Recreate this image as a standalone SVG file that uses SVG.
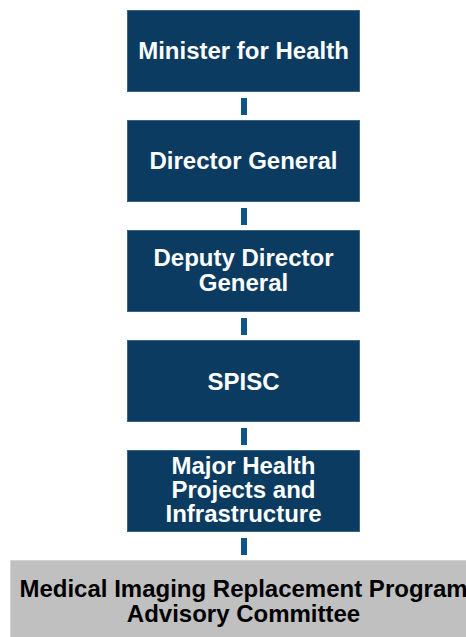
<svg xmlns="http://www.w3.org/2000/svg" width="466" height="637" viewBox="0 0 466 637">
<style>
.box{fill:#0b3b60;stroke:#3a6488;stroke-width:1}
.gbox{fill:#c0c0c0;stroke:#d4d4d4;stroke-width:1}
.t{font-family:"Liberation Sans",Arial,sans-serif;font-weight:bold;font-size:24px;text-anchor:middle;fill:#ffffff}
.tg{font-family:"Liberation Sans",Arial,sans-serif;font-weight:bold;font-size:24px;text-anchor:middle;fill:#000000}
.c{fill:#0e5586}
</style>
<rect width="466" height="637" fill="#ffffff"/>
<g id="connectors">
<rect class="c" x="241" y="98" width="6" height="17"/>
<rect class="c" x="241" y="208" width="6" height="17"/>
<rect class="c" x="241" y="318" width="6" height="17"/>
<rect class="c" x="241" y="428" width="6" height="17"/>
<rect class="c" x="241" y="538" width="6" height="17"/>
</g>
<g id="minister">
<rect class="box" x="127.5" y="10.5" width="232" height="81"/>
<text class="t" x="243.5" y="59">Minister for Health</text>
</g>
<g id="director-general">
<rect class="box" x="127.5" y="120.5" width="232" height="81"/>
<text class="t" x="243.5" y="169">Director General</text>
</g>
<g id="deputy-director-general">
<rect class="box" x="127.5" y="230.5" width="232" height="81"/>
<text class="t" x="243.5" y="266">Deputy Director</text>
<text class="t" x="243.5" y="291">General</text>
</g>
<g id="spisc">
<rect class="box" x="127.5" y="340.5" width="232" height="81"/>
<text class="t" x="243.5" y="389.5">SPISC</text>
</g>
<g id="major-health">
<rect class="box" x="127.5" y="450.5" width="232" height="81"/>
<text class="t" x="243.5" y="473.5">Major Health</text>
<text class="t" x="243.5" y="497.5">Projects and</text>
<text class="t" x="243.5" y="521.5">Infrastructure</text>
</g>
<g id="mirp-advisory">
<rect class="gbox" x="10.5" y="560.5" width="470" height="90"/>
<text class="tg" x="243.5" y="597">Medical Imaging Replacement Program</text>
<text class="tg" x="243.5" y="622">Advisory Committee</text>
</g>
</svg>
